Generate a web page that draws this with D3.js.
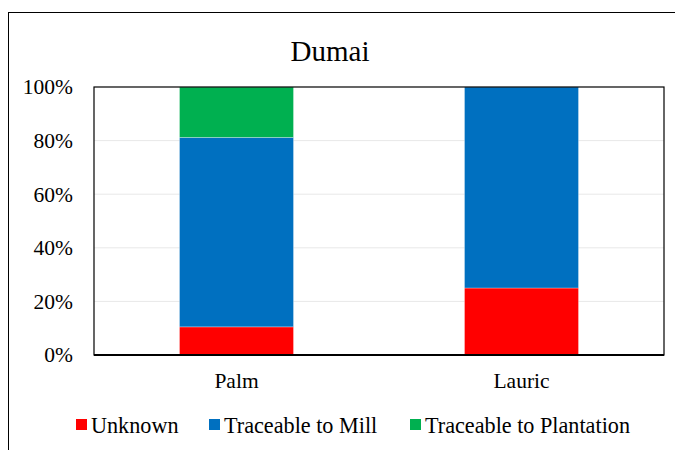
<!DOCTYPE html>
<html>
<head>
<meta charset="utf-8">
<script src="https://cdn.jsdelivr.net/npm/d3@7"></script>
<style>
  body { margin: 0; background: #fff; }
  text { font-family: "Liberation Serif", "Times New Roman", serif; fill: #000; }
</style>
</head>
<body>
<div id="chart"></div>
<script>
// data
const categories = ["Palm", "Lauric"];
const seriesNames = ["Unknown", "Traceable to Mill", "Traceable to Plantation"];
const unknown = [10.5, 25];
const traceableToMill = [70.7, 75];
const traceableToPlantation = [18.8, 0];
const yTicks = [0, 20, 40, 60, 80, 100];
const colors = ["#ff0000", "#0070c0", "#00b050"];

const W = 675, H = 450;
const margin = {top: 87, right: 11, bottom: 95, left: 94};
const width = W - margin.left - margin.right;
const height = H - margin.top - margin.bottom;
const labelSize = "21.5px";

const svg = d3.select("#chart").append("svg")
    .attr("width", W)
    .attr("height", H);

// outer chart frame (clipped by the window on right / bottom)
svg.append("rect")
    .attr("x", 8.5).attr("y", 12.5)
    .attr("width", 700).attr("height", 500)
    .attr("fill", "none")
    .attr("stroke", "#000")
    .attr("stroke-width", 1);

svg.append("text")
    .attr("x", 330).attr("y", 61)
    .attr("text-anchor", "middle")
    .style("font-size", "29px")
    .text("Dumai");

const g = svg.append("g")
    .attr("transform", "translate(" + margin.left + "," + margin.top + ")");

const x = d3.scaleBand()
    .domain(categories)
    .range([0, width])
    .paddingInner(0.6)
    .paddingOuter(0.3);

const y = d3.scaleLinear()
    .domain([0, 100])
    .range([height, 0]);

// gridlines
g.selectAll(".grid")
    .data(yTicks.filter(d => d > 0 && d < 100))
    .join("line")
    .attr("class", "grid")
    .attr("x1", 0).attr("x2", width)
    .attr("y1", d => y(d)).attr("y2", d => y(d))
    .attr("stroke", "#e8e8e8")
    .attr("stroke-width", 1);

// stacked bars
const table = categories.map((c, i) => ({
    category: c,
    "Unknown": unknown[i],
    "Traceable to Mill": traceableToMill[i],
    "Traceable to Plantation": traceableToPlantation[i]
}));
const stacked = d3.stack().keys(seriesNames)(table);

g.selectAll(".series")
    .data(stacked)
    .join("g")
    .attr("class", "series")
    .attr("fill", (d, i) => colors[i])
    .selectAll("rect")
    .data(d => d)
    .join("rect")
    .attr("x", d => x(d.data.category))
    .attr("width", x.bandwidth())
    .attr("y", d => y(d[1]))
    .attr("height", d => y(d[0]) - y(d[1]))
    .attr("stroke", "#fff")
    .attr("stroke-opacity", 0.4)
    .attr("stroke-width", 0.75);

// plot area border
g.append("rect")
    .attr("x", 0).attr("y", 0)
    .attr("width", width).attr("height", height)
    .attr("fill", "none")
    .attr("stroke", "#000")
    .attr("stroke-width", 1.2);

g.append("line")
    .attr("x1", 0).attr("x2", width)
    .attr("y1", height).attr("y2", height)
    .attr("stroke", "#000")
    .attr("stroke-width", 2);

// y axis labels
const yAxis = g.append("g")
    .call(d3.axisLeft(y).tickValues(yTicks).tickFormat(d => d + "%").tickSize(0).tickPadding(21));
yAxis.select(".domain").remove();
yAxis.selectAll("text")
    .style("font-size", labelSize)
    .style("font-family", "Liberation Serif, serif");

// x axis labels
const xAxis = g.append("g")
    .attr("transform", "translate(0," + height + ")")
    .call(d3.axisBottom(x).tickSize(0).tickPadding(18));
xAxis.select(".domain").remove();
xAxis.selectAll("text")
    .style("font-size", labelSize)
    .style("font-family", "Liberation Serif, serif");

// legend
const legendX = [76, 209, 410];
const legend = svg.append("g");
seriesNames.forEach((name, i) => {
    const lg = legend.append("g")
        .attr("transform", "translate(" + legendX[i] + ",425)");
    lg.append("rect")
        .attr("x", 0).attr("y", -6)
        .attr("width", 11).attr("height", 11)
        .attr("fill", colors[i]);
    lg.append("text")
        .attr("x", 15).attr("y", 0)
        .attr("dy", "0.35em")
        .style("font-size", "22.2px")
        .text(name);
});
</script>
</body>
</html>
